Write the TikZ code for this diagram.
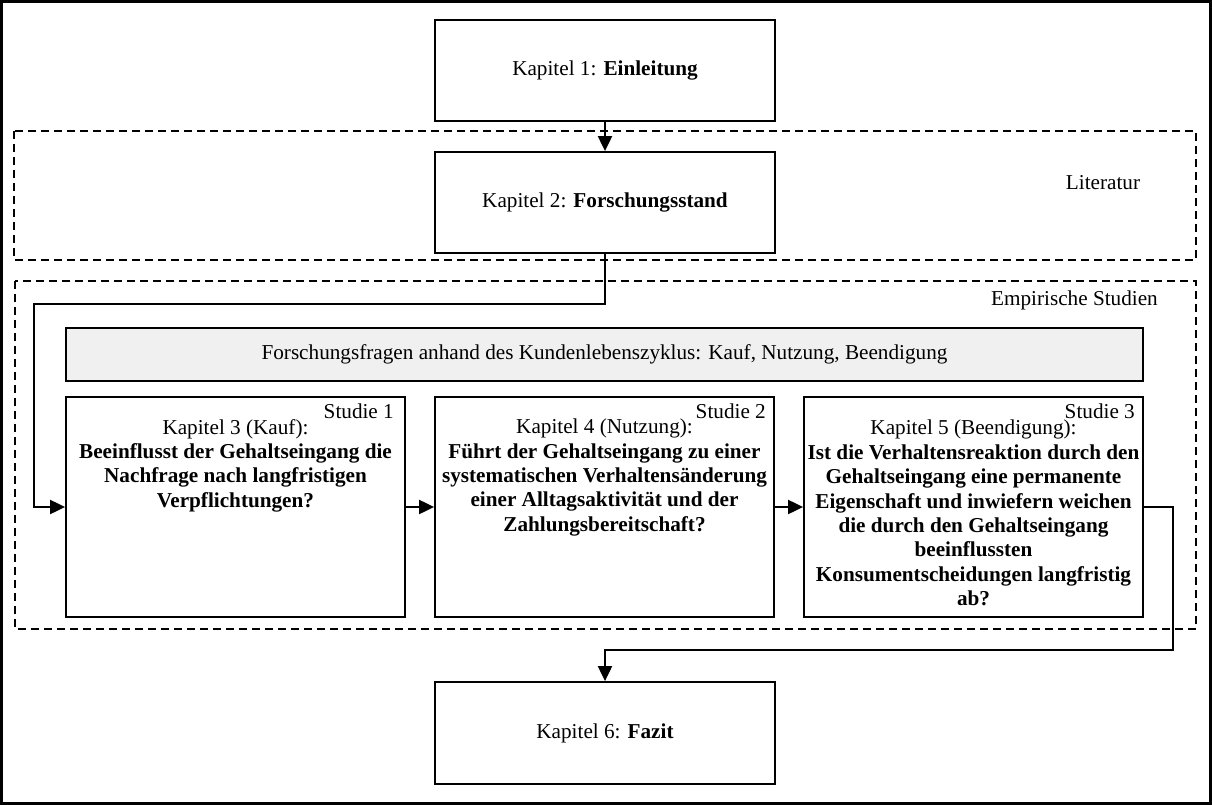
\documentclass[tikz,border=0pt]{standalone}
\usepackage{fontspec}
\setmainfont{Liberation Serif}
\usetikzlibrary{arrows.meta}
\begin{document}
\begin{tikzpicture}[x=1pt,y=-1pt,
  every node/.style={font=\fontsize{21.2}{24.4}\selectfont, inner sep=0pt},
  chapbox/.style={draw, line width=1.8pt, minimum width=340pt, align=center},
  groupbox/.style={draw, line width=1.8pt, dash pattern=on 8pt off 5pt},
  conn/.style={line width=2pt, -{Triangle[length=15pt,width=14pt]}},
  qtext/.style={align=center},
  tag/.style={anchor=east}
]
\useasboundingbox (0,0) rectangle (1212,805);
\draw[line width=2.6pt] (1.3,1.3) rectangle (1210.7,803.7);

% group frames
\draw[groupbox] (14,131) rectangle (1196,260);
\draw[groupbox] (15,281) rectangle (1196,629);
\node (lit) at (1103,183) {Literatur};
\node[tag] (emp) at (1158,300) {Empirische Studien};

% chapter boxes
\node[chapbox, minimum height=101pt] (k1) at (605,70.5) {Kapitel 1: \textbf{Einleitung}};
\node[chapbox, minimum height=101pt] (k2) at (605,202.5) {Kapitel 2: \textbf{Forschungsstand}};
\node[chapbox, minimum height=102pt] (k6) at (605,733) {Kapitel 6: \textbf{Fazit}};

% research questions bar
\node[draw, line width=1.8pt, fill=gray!12, minimum width=1077pt, minimum height=53pt] (ff) at (604.5,354.5)
  {Forschungsfragen anhand des Kundenlebenszyklus: Kauf, Nutzung, Beendigung};

% study boxes
\node[draw, line width=1.8pt, minimum width=339pt, minimum height=220pt] (s1) at (235.5,507) {};
\node[draw, line width=1.8pt, minimum width=339pt, minimum height=220pt] (s2) at (604.5,507) {};
\node[draw, line width=1.8pt, minimum width=339pt, minimum height=220pt] (s3) at (973.5,507) {};

\node[tag] (st1) at (394,411) {Studie 1};
\node[tag] (st2) at (766,411) {Studie 2};
\node[tag] (st3) at (1135,411) {Studie 3};

\node[qtext] (q1) at (235.5,465.5) {Kapitel 3 (Kauf):\\ \textbf{Beeinflusst der Gehaltseingang die}\\ \textbf{Nachfrage nach langfristigen}\\ \textbf{Verpflichtungen?}};
\node[qtext] (q2) at (604.5,477.5) {Kapitel 4 (Nutzung):\\ \textbf{Führt der Gehaltseingang zu einer}\\ \textbf{systematischen Verhaltensänderung}\\ \textbf{einer Alltagsaktivität und der}\\ \textbf{Zahlungsbereitschaft?}};
\node[qtext] (q3) at (973.5,513) {Kapitel 5 (Beendigung):\\ \textbf{Ist die Verhaltensreaktion durch den}\\ \textbf{Gehaltseingang eine permanente}\\ \textbf{Eigenschaft und inwiefern weichen}\\ \textbf{die durch den Gehaltseingang}\\ \textbf{beeinflussten}\\ \textbf{Konsumentscheidungen langfristig}\\ \textbf{ab?}};

% connectors
\coordinate (c1) at (34,304);
\coordinate (c2) at (1173,650);
\draw[conn] (k1.south) -- (k2.north);
\draw[conn] (k2.south) |- (c1) |- (s1.west);
\draw[conn] (s1.east) -- (s2.west);
\draw[conn] (s2.east) -- (s3.west);
\draw[conn] (s3.east) -| (c2) -| (k6.north);
\end{tikzpicture}
\end{document}
